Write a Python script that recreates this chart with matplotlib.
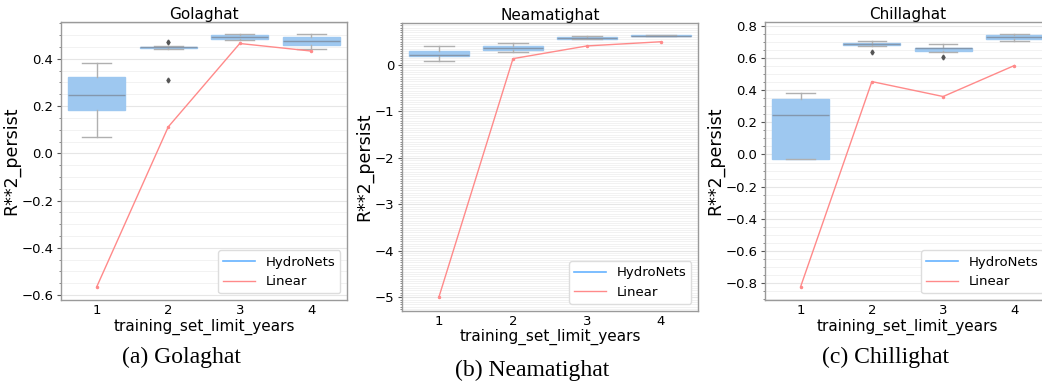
import matplotlib
matplotlib.use("Agg")
import matplotlib.pyplot as plt
from matplotlib.ticker import MultipleLocator, FuncFormatter

years = [1, 2, 3, 4]
stations = ["Golaghat", "Neamatighat", "Chillaghat"]
captions = ["(a) Golaghat", "(b) Neamatighat", "(c) Chillighat"]

# HydroNets box statistics per station (per training-years value)
gol_med = [0.248, 0.449, 0.492, 0.475]
gol_q1 = [0.183, 0.445, 0.482, 0.459]
gol_q3 = [0.323, 0.452, 0.500, 0.494]
gol_lo = [0.070, 0.442, 0.478, 0.441]
gol_hi = [0.382, 0.455, 0.504, 0.504]
gol_fl = [[], [0.472, 0.311], [], []]
gol_lin = [-0.565, 0.112, 0.465, 0.433]

nea_med = [0.22, 0.37, 0.59, 0.63]
nea_q1 = [0.20, 0.33, 0.55, 0.62]
nea_q3 = [0.30, 0.40, 0.60, 0.635]
nea_lo = [0.08, 0.27, 0.55, 0.615]
nea_hi = [0.40, 0.47, 0.62, 0.645]
nea_fl = [[], [], [], []]
nea_lin = [-4.99, 0.136, 0.41, 0.50]

chi_med = [0.245, 0.689, 0.660, 0.730]
chi_q1 = [-0.025, 0.681, 0.643, 0.718]
chi_q3 = [0.347, 0.697, 0.666, 0.747]
chi_lo = [-0.029, 0.676, 0.641, 0.706]
chi_hi = [0.382, 0.706, 0.689, 0.751]
chi_fl = [[], [0.639], [0.610], []]
chi_lin = [-0.823, 0.454, 0.361, 0.554]

data = [
    (gol_med, gol_q1, gol_q3, gol_lo, gol_hi, gol_fl, gol_lin),
    (nea_med, nea_q1, nea_q3, nea_lo, nea_hi, nea_fl, nea_lin),
    (chi_med, chi_q1, chi_q3, chi_lo, chi_hi, chi_fl, chi_lin),
]

W, H = 1042, 381
fig = plt.figure(figsize=(W / 100, H / 100), dpi=100)

# pixel boxes (left, top, right, bottom)
rects = [(61, 22, 347, 300), (402, 22.7, 698, 310.7), (765, 22, 1050, 300)]
ylims = [(-0.621, 0.556), (-5.29, 0.91), (-0.906, 0.825)]
ymajor = [0.2, 1.0, 0.2]
caption_pos = [(181, 357), (532, 370), (885, 357)]

box_face = "#9ec8f0"
whisk = "#b0b0b0"
med_c = "#8497ad"
blue = "#66b3ff"
red = "#ff8a8a"
spine_c = "#9a9a9a"

for i, (ax_rect, st) in enumerate(zip(rects, stations)):
    l, t, r, b = ax_rect
    ax = fig.add_axes([l / W, (H - b) / H, (r - l) / W, (b - t) / H])
    med, q1, q3, lo, hi, fl, lin = data[i]
    stats = []
    for k in range(len(years)):
        stats.append(dict(med=med[k], q1=q1[k], q3=q3[k], whislo=lo[k],
                          whishi=hi[k], fliers=fl[k]))
    ax.bxp(stats, positions=years, widths=0.8, patch_artist=True,
           showfliers=True,
           boxprops=dict(facecolor=box_face, edgecolor=box_face, linewidth=1),
           whiskerprops=dict(color=whisk, linewidth=1),
           capprops=dict(color=whisk, linewidth=1),
           medianprops=dict(color=med_c, linewidth=1),
           flierprops=dict(marker="d", markersize=2.5, markerfacecolor="#555555",
                           markeredgecolor="#555555"))
    ax.plot(years, lin, color=red, lw=1, marker=".", markersize=3, zorder=3)
    # legend proxies
    ax.plot([], [], color=blue, lw=1.2, label="HydroNets")
    ax.plot([], [], color=red, lw=1, label="Linear")
    ax.set_xlim(0.5, 4.5)
    ax.set_ylim(*ylims[i])
    ax.set_xticks(years)
    ax.set_xticklabels([str(y) for y in years])
    ax.yaxis.set_major_locator(MultipleLocator(ymajor[i]))
    ax.yaxis.set_minor_locator(MultipleLocator(0.05))
    if i == 1:
        ax.yaxis.set_major_formatter(FuncFormatter(
            lambda v, p: ("%d" % round(v)).replace("-", "\u2212") if abs(v) > 1e-9 else "0"))
    ax.grid(axis="y", which="major", color="#e6e6e6", lw=0.8)
    ax.grid(axis="y", which="minor", color="#f0f0f0", lw=0.6)
    ax.set_axisbelow(True)
    for s in ax.spines.values():
        s.set_color(spine_c)
        s.set_linewidth(1.0)
    ax.tick_params(axis="both", which="major", labelsize=9.5, length=3,
                   color="#555555", pad=2.5)
    ax.tick_params(axis="y", which="minor", length=1.5, color="#777777")
    ax.tick_params(axis="x", which="major", length=0, pad=3)
    ax.set_title(st, fontsize=11, pad=2)
    ax.set_xlabel("training_set_limit_years", fontsize=11, labelpad=1)
    ax.set_ylabel("R**2_persist", fontsize=12.5, labelpad=1)
    ax.legend(loc="lower right", fontsize=9.5, framealpha=1,
              edgecolor="#dddddd", handlelength=2.4)
    cx, cy = caption_pos[i]
    fig.text(cx / W, 1 - cy / H, captions[i], ha="center", va="center",
             fontsize=17, family="Liberation Serif")

fig.savefig("out.png", dpi=100)
